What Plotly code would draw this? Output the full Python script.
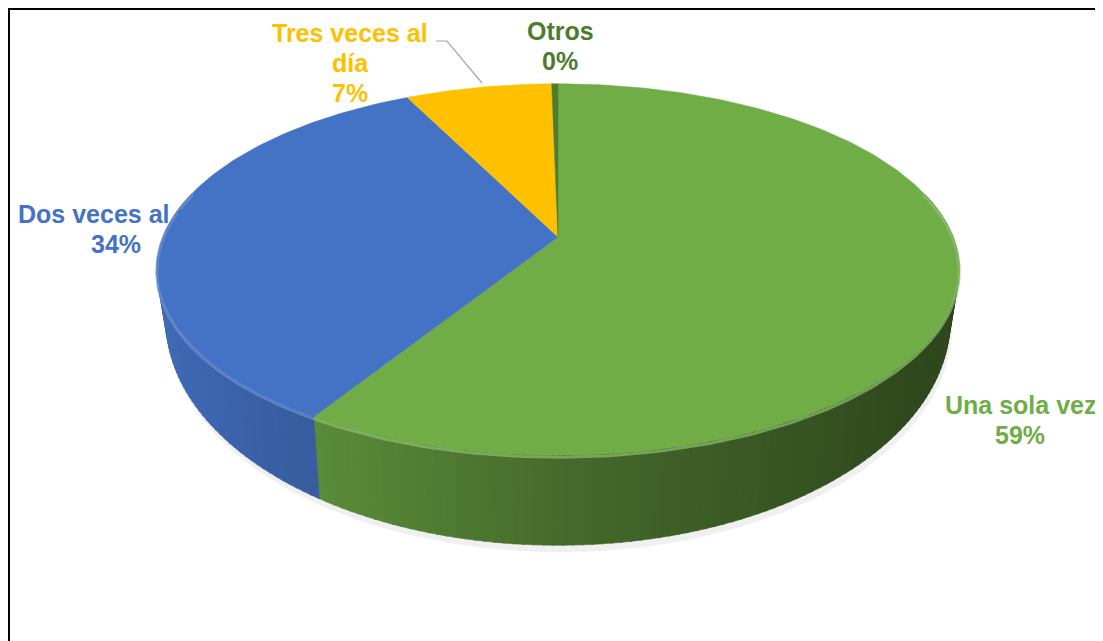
import numpy as np
import plotly.graph_objects as go

# ---------------- data ----------------
categories = ["Una sola vez", "Dos veces al día", "Tres veces al día", "Otros"]
values = [59, 34, 7, 0.3]
slice_colors = ["#70AD47", "#4472C4", "#FFC000", "#4E7B2E"]
label_colors = ["#70AD47", "#4472C4", "#FFC000", "#4E7B2E"]
label_lines = [["Una sola vez"], ["Dos veces al día"], ["Tres veces al", "día"], ["Otros"]]
label_x = [1020, 116, 350, 560]
label_y0 = [405, 214, 33, 31]
LINE_STEP = 30

# ---------------- geometry (styling of the 3D pie) ----------------
W, H = 1103, 641
OFF = 8  # default page body margin
CX, CY0, A, B, K = 558.0, 237.0, 395.0, 180.0, 0.175   # top face projection
CXB, CYB, AB, BB = 558.0, 281.0, 386.0, 218.0           # bottom rim projection


def top_pt(t):
    w = 1 + K * np.cos(t)
    return CX + A * np.sin(t) / w, CY0 - B * np.cos(t) / w


def bot_pt(t):
    w = 1 + K * np.cos(t)
    return CXB + AB * np.sin(t) / w, CYB - BB * np.cos(t) / w


def hex_rgb(h):
    h = h.lstrip("#")
    return tuple(int(h[i:i + 2], 16) for i in (0, 2, 4))


def shade(h, f):
    r, g, b = hex_rgb(h)
    return "rgb(%d,%d,%d)" % (min(255, r * f), min(255, g * f), min(255, b * f))


def lighten(h, a):
    r, g, b = hex_rgb(h)
    return "rgb(%d,%d,%d)" % (r + (255 - r) * a, g + (255 - g) * a, b + (255 - b) * a)


total = float(sum(values))
fracs = [v / total for v in values]
bounds = np.concatenate([[0.0], np.cumsum(fracs)]) * 2 * np.pi

fig = go.Figure()

# soft shadow under the pie
ts = np.linspace(0, 2 * np.pi, 240)
sx, sy = bot_pt(ts)
fig.add_trace(go.Scatter(x=sx + 2, y=sy + 7, fill="toself", mode="lines",
                         line=dict(width=0), fillcolor="rgba(0,0,0,0.06)",
                         hoverinfo="skip", showlegend=False))

# side walls (thin strips with lighting gradient)
for i, col in enumerate(slice_colors):
    t1, t2 = bounds[i], bounds[i + 1]
    n = max(2, int(np.degrees(t2 - t1) / 1.2) + 1)
    tt = np.linspace(t1, t2, n)
    for j in range(n - 1):
        tm = 0.5 * (tt[j] + tt[j + 1])
        if np.cos(tm) > 0.25:
            continue
        seg = np.linspace(tt[j], tt[j + 1] + 0.004, 3)
        xa, ya = top_pt(seg)
        xb, yb = bot_pt(seg[::-1])
        xm = top_pt(tm)[0]
        f = np.interp(xm, [150, 330, 560, 960], [0.93, 0.8, 0.62, 0.40])
        fig.add_trace(go.Scatter(x=np.concatenate([xa, xb, xa[:1]]),
                                 y=np.concatenate([ya, yb, ya[:1]]),
                                 fill="toself", mode="lines",
                                 line=dict(width=0.6, color=shade(col, f)),
                                 fillcolor=shade(col, f),
                                 hoverinfo="skip", showlegend=False))

# top faces
for i, col in enumerate(slice_colors):
    t1, t2 = bounds[i], bounds[i + 1]
    n = max(3, int(np.degrees(t2 - t1)) + 2)
    tt = np.linspace(t1, t2, n)
    xa, ya = top_pt(tt)
    fig.add_trace(go.Scatter(x=np.concatenate([[CX], xa, [CX]]),
                             y=np.concatenate([[CY0], ya, [CY0]]),
                             fill="toself", mode="lines",
                             line=dict(width=0.5, color=col), fillcolor=col,
                             hoverinfo="skip", showlegend=False,
                             name=categories[i]))

# bevel highlight along the front rim
for i, col in enumerate(slice_colors):
    t1, t2 = bounds[i], bounds[i + 1]
    lo, hi = max(t1, np.radians(75)), min(t2, np.radians(285))
    if hi <= lo:
        continue
    tt = np.linspace(lo, hi, 120)
    xa, ya = top_pt(tt)
    fig.add_trace(go.Scatter(x=xa, y=ya + 2, mode="lines",
                             line=dict(width=3, color=lighten(col, 0.22)),
                             opacity=0.7, hoverinfo="skip", showlegend=False))

# leader line for the small slice label
fig.add_trace(go.Scatter(x=[436, 447, 482], y=[41, 41, 83], mode="lines",
                         line=dict(width=1.2, color="#A6A6A6"),
                         hoverinfo="skip", showlegend=False))

# data labels (one annotation per text line)
for i, lines in enumerate(label_lines):
    pct = int(round(fracs[i] * 100))
    all_lines = lines + ["%d%%" % pct]
    for j, txt in enumerate(all_lines):
        fig.add_annotation(x=label_x[i], y=label_y0[i] + j * LINE_STEP,
                           text="<b>%s</b>" % txt,
                           showarrow=False, xanchor="center", yanchor="middle",
                           font=dict(family="Liberation Sans, Arial", size=25,
                                     color=label_colors[i]))

# frame lines (top and left)
fig.add_shape(type="line", x0=OFF, x1=W, y0=OFF + 0.5, y1=OFF + 0.5,
              line=dict(color="black", width=3))
fig.add_shape(type="line", x0=OFF + 0.5, x1=OFF + 0.5, y0=OFF, y1=H,
              line=dict(color="black", width=3))

fig.update_layout(
    width=W - OFF, height=H - OFF,
    margin=dict(l=0, r=0, t=0, b=0),
    paper_bgcolor="white", plot_bgcolor="white",
    xaxis=dict(range=[OFF, W], visible=False, fixedrange=True),
    yaxis=dict(range=[H, OFF], visible=False, fixedrange=True),
    showlegend=False,
)

fig.write_html("out.html")
